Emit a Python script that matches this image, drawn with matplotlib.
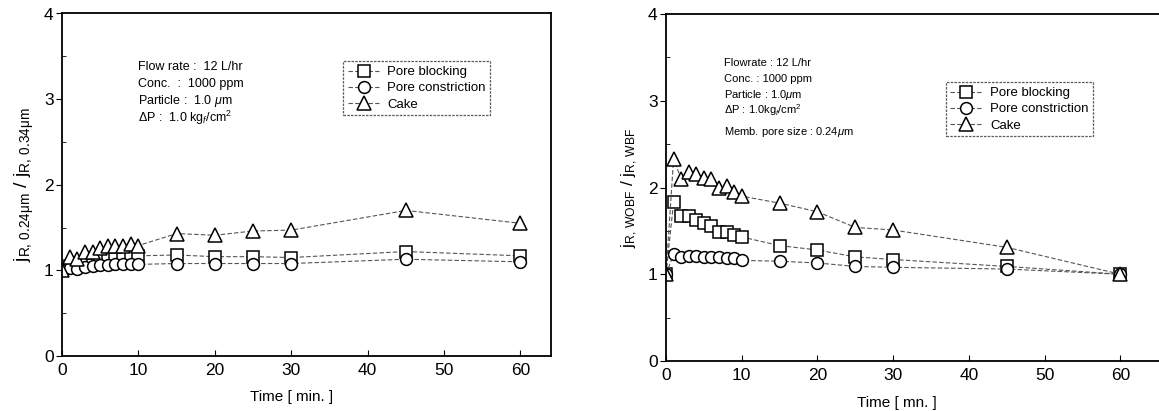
import matplotlib.pyplot as plt
from matplotlib.ticker import MultipleLocator

plt.rcParams['font.family'] = ['Liberation Sans', 'DejaVu Sans']
plt.rcParams['mathtext.fontset'] = 'custom'
plt.rcParams['mathtext.rm'] = 'Liberation Sans'
plt.rcParams['mathtext.it'] = 'Liberation Sans:italic'

# Filtration time [min]
time = [0, 1, 2, 3, 4, 5, 6, 7, 8, 9, 10, 15, 20, 25, 30, 45, 60]

# Left panel: j_R,0.24um / j_R,0.34um
left_blocking = [1.0, 1.05, 1.08, 1.10, 1.12, 1.13, 1.15, 1.16, 1.17, 1.18, 1.17,
                 1.18, 1.16, 1.16, 1.15, 1.22, 1.17]
left_constriction = [1.0, 1.03, 1.02, 1.04, 1.05, 1.06, 1.06, 1.07, 1.07, 1.07, 1.07,
                     1.08, 1.08, 1.08, 1.08, 1.13, 1.10]
left_cake = [1.0, 1.16, 1.13, 1.21, 1.22, 1.26, 1.29, 1.29, 1.29, 1.31, 1.29,
             1.43, 1.41, 1.46, 1.47, 1.70, 1.55]

# Right panel: j_R,WOBF / j_R,WBF
right_blocking = [1.0, 1.83, 1.67, 1.67, 1.62, 1.59, 1.56, 1.49, 1.49, 1.45, 1.43,
                  1.33, 1.28, 1.20, 1.17, 1.09, 1.0]
right_constriction = [1.0, 1.23, 1.20, 1.21, 1.21, 1.20, 1.20, 1.20, 1.19, 1.19, 1.16,
                      1.15, 1.13, 1.09, 1.08, 1.06, 1.0]
right_cake = [1.0, 2.33, 2.10, 2.18, 2.15, 2.11, 2.10, 1.99, 2.02, 1.95, 1.90,
              1.82, 1.72, 1.54, 1.51, 1.31, 1.0]

series_labels = ['Pore blocking', 'Pore constriction', 'Cake']
series_markers = ['s', 'o', '^']
series_sizes = [8.5, 8.5, 10.5]

left_notes = ['Flow rate :  12 L/hr', 'Conc.  :  1000 ppm', r'Particle :  1.0 $\mu$m',
              r'$\Delta$P :  1.0 kg$_f$/cm$^2$']
right_notes = ['Flowrate : 12 L/hr', 'Conc. : 1000 ppm', r'Particle : 1.0$\mu$m',
               r'$\Delta$P : 1.0kg$_f$/cm$^2$', r'Memb. pore size : 0.24$\mu$m']

W, H = 1159, 411
fig = plt.figure(figsize=(W / 100, H / 100), dpi=100)


def px_axes(x0, y0, x1, y1):
    # axes rectangle given in pixel coordinates (top-left origin)
    return fig.add_axes([x0 / W, 1 - y1 / H, (x1 - x0) / W, (y1 - y0) / H])


def draw_panel(ax, series, xmax, ylabel, ylabel_size, xlabel, xlabel_x, notes, note_ys,
               note_x, note_size, legend_bbox):
    for values, label, marker, ms in zip(series, series_labels, series_markers, series_sizes):
        ax.plot(time, values, linestyle=(0, (4, 2)), color='#555555', linewidth=0.8,
                marker=marker, markersize=ms, markerfacecolor='white',
                markeredgecolor='black', markeredgewidth=1.1, label=label)
    ax.set_xlim(0, xmax)
    ax.set_ylim(0, 4)
    ax.xaxis.set_major_locator(MultipleLocator(10))
    ax.yaxis.set_major_locator(MultipleLocator(1))
    ax.yaxis.set_minor_locator(MultipleLocator(0.5))
    ax.tick_params(axis='x', direction='in', length=4, labelsize=12.5, pad=5)
    ax.tick_params(axis='y', which='major', direction='out', length=4, labelsize=12.5, pad=2)
    ax.tick_params(axis='y', which='minor', direction='in', length=3)
    for spine in ax.spines.values():
        spine.set_linewidth(1.3)
    ax.set_xlabel(xlabel, fontsize=11)
    ax.xaxis.set_label_coords(xlabel_x, -0.1)
    ax.set_ylabel(ylabel, fontsize=ylabel_size, labelpad=6)

    for note, y in zip(notes, note_ys):
        ax.text(note_x, y, note, transform=ax.transAxes, fontsize=note_size, va='center')

    leg = ax.legend(loc='upper left', bbox_to_anchor=legend_bbox, fontsize=9.5,
                    frameon=True, fancybox=False, handlelength=2.4, handletextpad=0.6,
                    borderpad=0.35, labelspacing=0.3, borderaxespad=0)
    leg.get_frame().set_edgecolor('#333333')
    leg.get_frame().set_linewidth(0.9)
    leg.get_frame().set_linestyle((0, (2, 1)))


ax1 = px_axes(62, 13.5, 551, 356)
draw_panel(ax1, [left_blocking, left_constriction, left_cake], 64,
           r'$\mathrm{j}_{\mathrm{R,\,0.24\mu m}}\ /\ \mathrm{j}_{\mathrm{R,\,0.34\mu m}}$', 14,
           'Time [ min. ]', 0.47, left_notes, [0.845, 0.795, 0.745, 0.695], 0.155, 9,
           (0.575, 0.86))

ax2 = px_axes(666, 14, 1162, 361)
draw_panel(ax2, [right_blocking, right_constriction, right_cake], 65.5,
           r'$\mathrm{j}_{\mathrm{R,\,WOBF}}\ /\ \mathrm{j}_{\mathrm{R,\,WBF}}$', 12.5,
           'Time [ mn. ]', 0.465, right_notes, [0.858, 0.812, 0.768, 0.722, 0.66], 0.117, 8,
           (0.564, 0.803))

fig.savefig('out.png', dpi=100)
